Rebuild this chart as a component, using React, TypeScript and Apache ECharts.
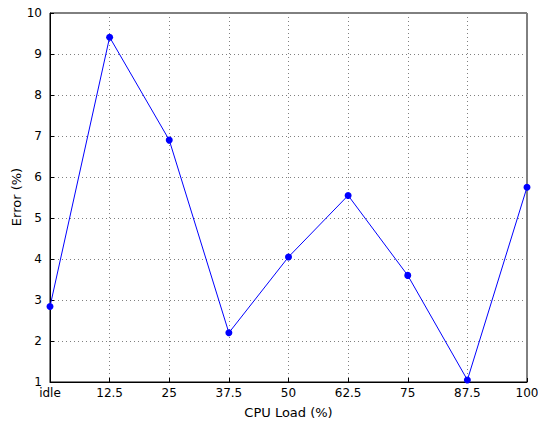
import React, { useEffect, useRef } from "react";
import * as echarts from "echarts";

const categories = ["idle", "12.5", "25", "37.5", "50", "62.5", "75", "87.5", "100"];
const errorValues = [2.84, 9.41, 6.9, 2.2, 4.05, 5.55, 3.6, 1.05, 5.75];
const yTitle = "Error (%)";
const xTitle = "CPU Load (%)";

export default function App() {
  const ref = useRef<HTMLDivElement>(null);
  useEffect(() => {
    if (!ref.current) return;
    const chart = echarts.init(ref.current, undefined, { renderer: "svg" });
    const font = "DejaVu Sans";
    chart.setOption({
      animation: false,
      backgroundColor: "#ffffff",
      grid: {
        left: 50,
        right: 11,
        top: 13,
        bottom: 44,
        outerBoundsMode: "none",
        containLabel: false,
        show: true,
        borderColor: "#000000",
        borderWidth: 1,
        backgroundColor: "transparent",
      },
      graphic: [
        {
          type: "text",
          x: 16,
          y: 197,
          rotation: Math.PI / 2,
          style: {
            text: yTitle,
            fontFamily: font,
            fontSize: 13,
            fill: "#000",
            align: "center",
            verticalAlign: "middle",
          },
        },
      ],
      xAxis: {
        type: "category",
        data: categories,
        boundaryGap: false,
        name: xTitle,
        nameLocation: "middle",
        nameGap: 24,
        nameTextStyle: { fontFamily: font, fontSize: 13, color: "#000" },
        axisLine: { show: true, lineStyle: { color: "#000", width: 1 } },
        axisTick: { show: true, inside: true, length: 4, lineStyle: { color: "#000" } },
        axisLabel: { fontFamily: font, fontSize: 12, color: "#000", margin: 5 },
        splitLine: { show: true, lineStyle: { color: "#808080", type: [1, 3], width: 1 } },
      },
      yAxis: {
        type: "value",
        min: 1,
        max: 10,
        interval: 1,
        axisLine: { show: true, lineStyle: { color: "#000", width: 1 } },
        axisTick: { show: true, inside: true, length: 4, lineStyle: { color: "#000" } },
        axisLabel: { fontFamily: font, fontSize: 12, color: "#000", margin: 8 },
        splitLine: { show: true, lineStyle: { color: "#808080", type: [1, 3], width: 1 } },
      },
      series: [
        {
          type: "line",
          data: errorValues,
          symbol: "circle",
          symbolSize: 7,
          showAllSymbol: true,
          lineStyle: { color: "#0000ff", width: 1 },
          itemStyle: { color: "#0000ff" },
          clip: true,
        },
      ],
    });
    return () => chart.dispose();
  }, []);
  return <div ref={ref} style={{ width: 538, height: 426, position: "absolute", left: 0, top: 0 }} />;
}
